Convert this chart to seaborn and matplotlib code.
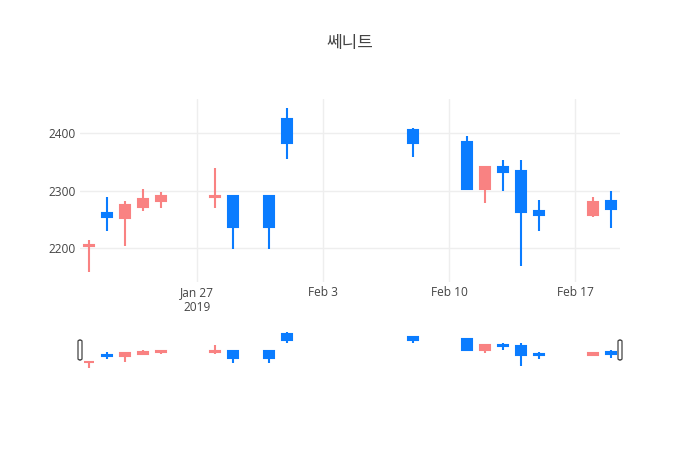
import matplotlib
matplotlib.use("Agg")
import matplotlib.pyplot as plt
import matplotlib.dates as mdates
import matplotlib.patches as mpatches
import numpy as np
import pandas as pd
import seaborn as sns

dates = ["2019-01-21", "2019-01-22", "2019-01-23", "2019-01-24", "2019-01-25",
         "2019-01-28", "2019-01-29", "2019-01-31", "2019-02-01", "2019-02-08",
         "2019-02-11", "2019-02-12", "2019-02-13", "2019-02-14", "2019-02-15",
         "2019-02-18", "2019-02-19"]
opens = [2203, 2261, 2252, 2272, 2282, 2288, 2290, 2290, 2425, 2405,
         2385, 2303, 2340, 2334, 2265, 2257, 2281]
closes = [2205, 2254, 2275, 2285, 2290, 2290, 2237, 2237, 2382, 2382,
          2303, 2340, 2333, 2263, 2258, 2280, 2268]
highs = [2214, 2288, 2282, 2303, 2298, 2339, 2290, 2290, 2443, 2409,
         2394, 2340, 2353, 2353, 2283, 2288, 2299]
lows = [2159, 2229, 2204, 2264, 2269, 2269, 2199, 2199, 2354, 2359,
        2303, 2279, 2299, 2169, 2230, 2254, 2234]

df = pd.DataFrame({"date": pd.to_datetime(dates), "open": opens, "close": closes,
                   "high": highs, "low": lows})
df["x"] = mdates.date2num(df["date"])
df["up"] = df["close"] >= df["open"]

up_color = "#F98282"
down_color = "#0A7CFF"

sns.set_theme(style="white")
plt.rcParams["font.family"] = ["Open Sans", "Noto Sans CJK KR", "DejaVu Sans"]

fig = plt.figure(figsize=(7, 4.5), dpi=100)
ax = fig.add_axes([80 / 700, 1 - 282 / 450, 540 / 700, 183 / 450])
sax = fig.add_axes([80 / 700, 1 - 370 / 450, 540 / 700, 40 / 450])

xmin = mdates.date2num(pd.Timestamp("2019-01-20 12:00"))
xmax = mdates.date2num(pd.Timestamp("2019-02-19 12:00"))


def draw_candles(a, lw):
    cols = [up_color if u else down_color for u in df["up"]]
    a.vlines(df["x"], df["low"], df["high"], colors=cols, linewidth=lw, zorder=2)
    bottom = np.minimum(df["open"], df["close"])
    height = np.abs(df["close"] - df["open"])
    a.bar(df["x"], height, bottom=bottom, width=0.52, color=cols,
          edgecolor=cols, linewidth=lw, zorder=3)
    a.set_xlim(xmin, xmax)


draw_candles(ax, 1.5)
draw_candles(sax, 1.5)

ax.set_ylim(2141, 2459)
ax.set_yticks([2200, 2300, 2400])
ax.grid(True, color="#eeeeee", linewidth=1)
ticks = mdates.date2num(pd.to_datetime(["2019-01-27", "2019-02-03", "2019-02-10", "2019-02-17"]))
ax.set_xticks(ticks)
ax.set_xticklabels(["Jan 27\n2019", "Feb 3", "Feb 10", "Feb 17"])
ax.tick_params(axis="both", length=0, labelsize=8.6, labelcolor="#444444")
ax.tick_params(axis="x", pad=3)
ax.tick_params(axis="y", pad=3)
for s in ax.spines.values():
    s.set_visible(False)

sax.set_ylim(2141, 2459)
sax.set_xticks([])
sax.set_yticks([])
for s in sax.spines.values():
    s.set_visible(False)

# range slider handles
for hx in (80, 620):
    fig.patches.append(mpatches.FancyBboxPatch(
        ((hx - 2) / 700, 1 - 360 / 450), 4 / 700, 20 / 450,
        boxstyle="round,pad=0,rounding_size=0.003", transform=fig.transFigure,
        facecolor="white", edgecolor="#444444", linewidth=0.9, zorder=5))

fig.text(0.5, 1 - 43 / 450, "쎄니트", ha="center", va="center", fontsize=12.2,
         color="#444444", family=["Noto Sans CJK KR", "DejaVu Sans"])

fig.savefig("out.png", dpi=100, facecolor="white")
